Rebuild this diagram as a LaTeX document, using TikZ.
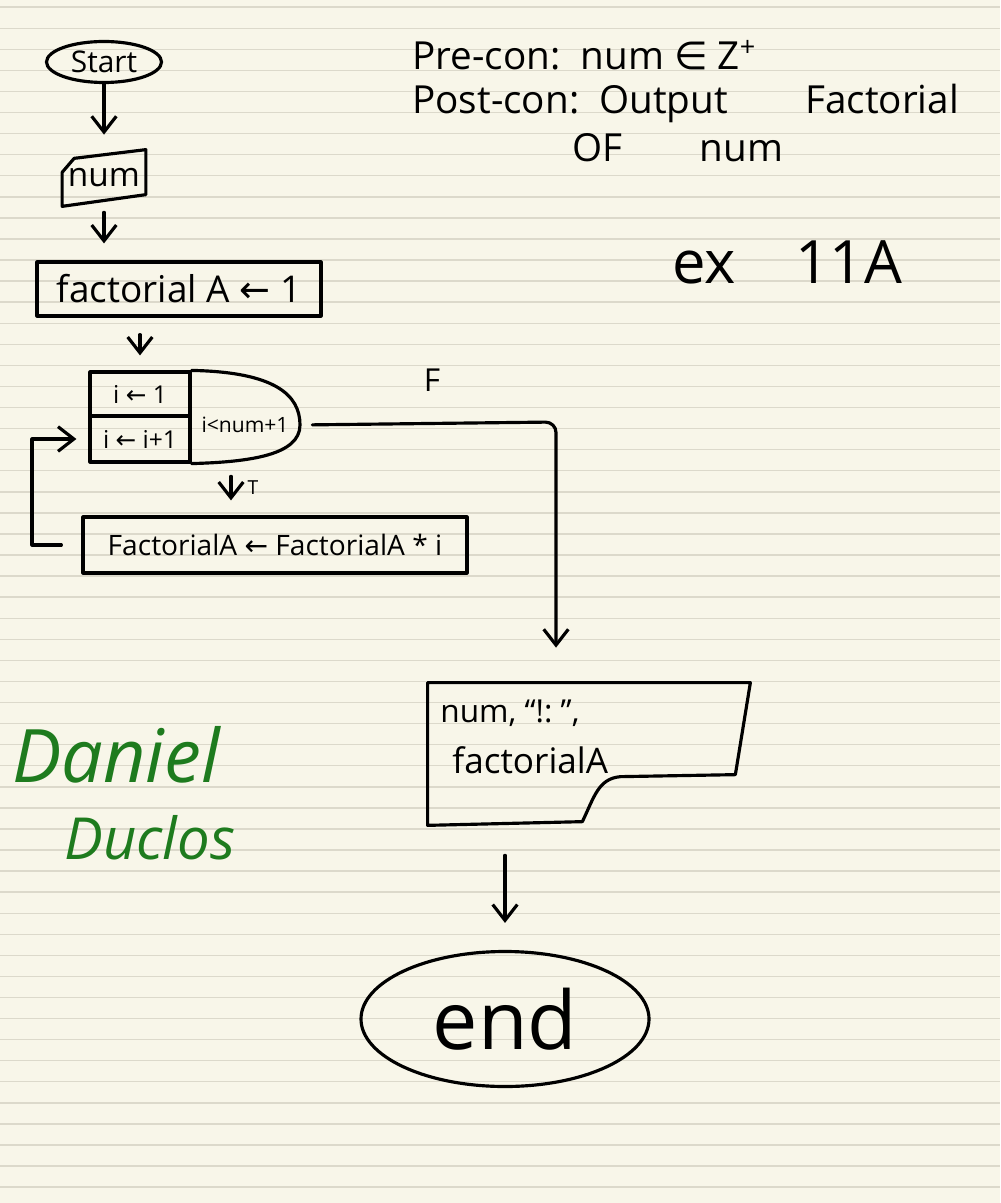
\documentclass[tikz,border=0pt]{standalone}
\usepackage{fontspec}
\setmainfont{Open Sans}
\newfontfamily\symf{DejaVu Sans}
\usetikzlibrary{arrows.meta,shapes.geometric,calc}

\definecolor{paper}{HTML}{F8F6E9}
\definecolor{ruleline}{HTML}{DCD9CB}
\definecolor{signgreen}{HTML}{1E7B1E}

\begin{document}
\begin{tikzpicture}[x=0.2mm,y=-0.2mm,
  ink/.style={line width=1.8pt,line cap=round,line join=round},
  arr/.style={ink,-{Straight Barb[length=9pt,width=14pt]}},
  box/.style={draw,ink,rectangle,inner sep=0pt},
  txt/.style={inner sep=0pt,font=\fontsize{#1}{#1}\selectfont},
  sign/.style={anchor=west,inner sep=0pt,signgreen,font=\fontsize{#1}{#1}\selectfont\itshape}]
  \useasboundingbox (0,0) rectangle (1000,1203);
  \fill[paper] (0,0) rectangle (1000,1203);
  \foreach \k in {0,...,56}
    \draw[ruleline,line width=0.8pt] (0,{7.2+21.07*\k}) -- (1000,{7.2+21.07*\k});

  % flow chart
  \node[draw,ink,ellipse,minimum width=23mm,minimum height=8.2mm,txt=17] (start) at (104,62) {Start};

  \node[minimum width=16.6mm,minimum height=11.2mm,txt=19] (num) at (104,178) {num};
  \draw[ink] (num.south west) -- ++(0,-34) -- ++(12,-14) -- (num.north east) -- ++(0,45) -- cycle;

  \node[box,minimum width=56.8mm,minimum height=10.8mm,txt=21] (fact1) at (179,289) {factorial A {\symf ←} 1};

  \node[box,minimum width=20mm,minimum height=8.8mm,txt=14] (init) at (140,394) {i {\symf ←} 1};
  \node[box,minimum width=20mm,minimum height=9.2mm,txt=14] (incr) at (140,439) {i {\symf ←} i+1};
  \draw[ink] (init.north east) .. controls (275,372) and (300,395) .. (300,425)
    .. controls (300,455) and (250,462) .. (incr.south east);
  \node[minimum width=22mm,minimum height=8mm,txt=12] (cond) at (245,425) {i<num+1};

  \node[box,minimum width=76.8mm,minimum height=11.2mm,txt=16] (body) at (275,545) {FactorialA {\symf ←} FactorialA * i};

  \node[minimum width=64.4mm,minimum height=28.4mm,inner sep=0pt] (out) at (589,754) {};
  \draw[ink] (out.south west) -- (out.north west) -- (out.north east) -- ++(-15,92) -- ++(-115,2)
    .. controls +(-22,2) and +(12,-25) .. ++(-38,45) -- cycle;
  \node[anchor=west,txt=18] (outa) at (440,713) {num, ``!:~'',};
  \node[anchor=west,txt=20] (outb) at (452,760) {factorialA};

  \node[draw,ink,ellipse,minimum width=57.6mm,minimum height=27mm,txt=46] (stop) at (505,1019) {end};

  % connectors
  \coordinate (fdrop) at (556,422);
  \coordinate (back) at (32,500);
  \draw[arr,shorten >=3mm] (start) -- (num);
  \draw[arr,shorten <=1.2mm,shorten >=3.4mm] (num) -- (num |- fact1.north);
  \draw[arr,shorten <=3.4mm,shorten >=3mm] (init.north |- fact1.south) -- (init.north);
  \draw[arr,rounded corners=6pt,shorten <=2.4mm,shorten >=7mm] (cond.east) -- (fdrop) -- (fdrop |- out.north);
  \draw[arr,shorten <=6.2mm,shorten >=3mm] ([xshift=-2.8mm]cond.south) -- ([xshift=-2.8mm]cond.south |- body.north);
  \draw[arr,shorten <=4mm,shorten >=2.4mm] (body.west) -| (back) |- (incr.west);
  \draw[arr,shorten <=6mm,shorten >=5.4mm] (stop.north |- out.south) -- (stop.north);

  \node[txt=18] (flab) at (432,380) {F};
  \node[txt=11] (tlab) at (253,488) {T};

  % notes
  \node[anchor=west,txt=22] (pre) at (412,55) {Pre-con:\ \ num {\symf ∈} Z\textsuperscript{+}};
  \node[anchor=west,txt=22] (post) at (412,103) {Post-con:\ \ Output\qquad Factorial};
  \node[anchor=west,txt=22] (postb) at (572,148) {OF\qquad num};
  \node[anchor=west,txt=34] (ex) at (672,262) {ex\quad 11A};

  \node[sign=42] (sig1) at (12,755) {Daniel};
  \node[sign=33] (sig2) at (64,838) {Duclos};
\end{tikzpicture}
\end{document}
